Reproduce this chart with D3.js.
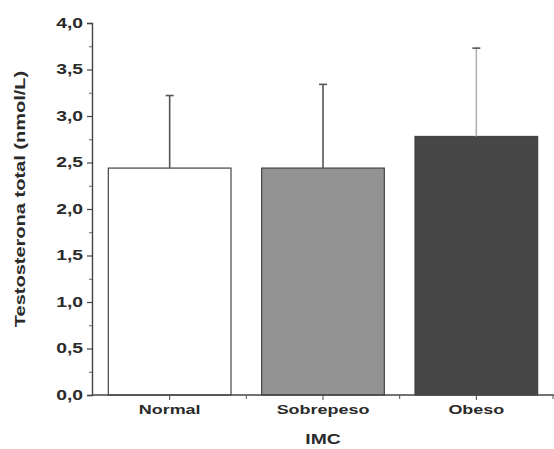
<!DOCTYPE html>
<html>
<head>
<meta charset="utf-8">
<script src="https://cdn.jsdelivr.net/npm/d3@7"></script>
<style>
  body { margin: 0; background: #fff; }
  text { font-family: "Liberation Sans", Arial, sans-serif; font-weight: bold; fill: #2a2a2a; }
</style>
</head>
<body>
<div id="chart"></div>
<script>
// Chart data
const categories = ["Normal", "Sobrepeso", "Obeso"];
const means = [2.44, 2.44, 2.78];
const errors = [0.78, 0.90, 0.95];
const yTicks = [0, 0.5, 1, 1.5, 2, 2.5, 3, 3.5, 4];
const fills = ["#ffffff", "#939393", "#474747"];
const errColors = ["#555555", "#555555", "#b0b0b0"];

const width = 554;
const height = 449;
const margin = {left: 92, right: 1, top: 23, bottom: 54};

// stretch factor: the original font is wider than Liberation Sans
const widen = 1.38;

const svg = d3.select("#chart")
  .append("svg")
  .attr("width", width)
  .attr("height", height);

// Scales
const yScale = d3.scaleLinear()
  .domain([0, 4])
  .range([height - margin.bottom, margin.top]);

const xScale = d3.scaleBand()
  .domain(categories)
  .range([margin.left + 1, width - margin.right])
  .paddingInner(0.2)
  .paddingOuter(0.1);

const x0 = yScale(0);

// Bars
svg.selectAll(".bar")
  .data(categories)
  .enter()
  .append("rect")
    .attr("class", "bar")
    .attr("x", d => xScale(d))
    .attr("y", (d, i) => yScale(means[i]))
    .attr("width", xScale.bandwidth())
    .attr("height", (d, i) => x0 - yScale(means[i]))
    .attr("fill", (d, i) => fills[i])
    .attr("stroke", "#444")
    .attr("stroke-width", 1.2);

// Error bars (upper only)
svg.selectAll(".err")
  .data(categories)
  .enter()
  .append("line")
    .attr("x1", d => xScale(d) + xScale.bandwidth() / 2)
    .attr("x2", d => xScale(d) + xScale.bandwidth() / 2)
    .attr("y1", (d, i) => yScale(means[i]))
    .attr("y2", (d, i) => yScale(means[i] + errors[i]))
    .attr("stroke", (d, i) => errColors[i])
    .attr("stroke-width", 1.6);

svg.selectAll(".cap")
  .data(categories)
  .enter()
  .append("line")
    .attr("x1", d => xScale(d) + xScale.bandwidth() / 2 - 4)
    .attr("x2", d => xScale(d) + xScale.bandwidth() / 2 + 4)
    .attr("y1", (d, i) => yScale(means[i] + errors[i]))
    .attr("y2", (d, i) => yScale(means[i] + errors[i]))
    .attr("stroke", "#555")
    .attr("stroke-width", 1.6);

// widen a text element to match the original's wide font
function stretch(sel) {
  sel.each(function() {
    const w = this.getComputedTextLength();
    d3.select(this)
      .attr("textLength", w * widen)
      .attr("lengthAdjust", "spacingAndGlyphs");
  });
}

// Y axis
const yAxis = svg.append("g")
  .attr("transform", `translate(${margin.left},0)`)
  .call(d3.axisLeft(yScale)
    .tickValues(yTicks)
    .tickSize(5)
    .tickFormat(d => d3.format(".1f")(d).replace(".", ",")));
yAxis.selectAll("text").attr("font-size", "14px").attr("dx", "-1").call(stretch);
yAxis.select(".domain").attr("stroke", "#444").attr("stroke-width", 1.4);
yAxis.selectAll(".tick line").attr("stroke", "#444").attr("stroke-width", 1.2);

// Y minor ticks
svg.append("g")
  .attr("transform", `translate(${margin.left},0)`)
  .call(d3.axisLeft(yScale)
    .tickValues(d3.range(0.25, 4, 0.5))
    .tickSize(3)
    .tickFormat(""))
  .call(g => g.select(".domain").remove())
  .selectAll(".tick line").attr("stroke", "#666");

// X axis
const xAxis = svg.append("g")
  .attr("transform", `translate(0,${x0})`)
  .call(d3.axisBottom(xScale).tickSize(5).tickSizeOuter(0));
xAxis.selectAll("text").attr("font-size", "13px").attr("dy", "0.85em").call(stretch);
xAxis.select(".domain")
  .attr("d", `M${margin.left},0H${width}`)
  .attr("stroke", "#444").attr("stroke-width", 1.4);
xAxis.selectAll(".tick line").attr("stroke", "#444");

// X minor ticks between categories
const step = xScale.step();
svg.append("g")
  .selectAll("line")
  .data(categories)
  .enter()
  .append("line")
    .attr("x1", d => xScale(d) + xScale.bandwidth() / 2 + step / 2)
    .attr("x2", d => xScale(d) + xScale.bandwidth() / 2 + step / 2)
    .attr("y1", x0)
    .attr("y2", x0 + 4)
    .attr("stroke", "#555");

// Axis titles
svg.append("text")
  .attr("x", xScale("Sobrepeso") + xScale.bandwidth() / 2)
  .attr("y", 444)
  .attr("text-anchor", "middle")
  .attr("font-size", "14px")
  .text("IMC")
  .call(stretch);

svg.append("text")
  .attr("transform", `translate(25,199) rotate(-90)`)
  .attr("text-anchor", "middle")
  .attr("font-size", "14.5px")
  .text("Testosterona total (nmol/L)")
  .call(stretch);
</script>
</body>
</html>
